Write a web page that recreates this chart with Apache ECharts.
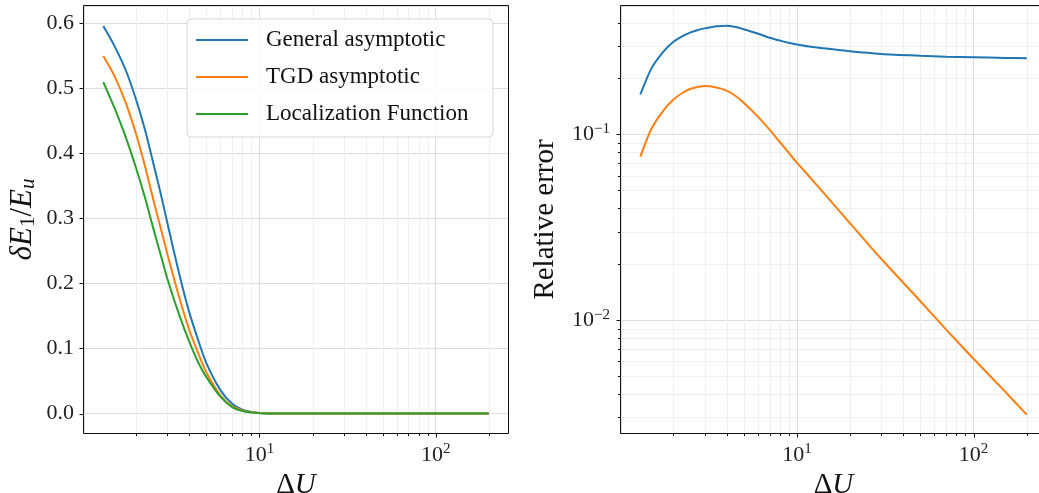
<!DOCTYPE html>
<html>
<head>
<meta charset="utf-8">
<title>Asymptotic vs localization function</title>
<script src="https://cdn.jsdelivr.net/npm/echarts@6.0.0/dist/echarts.min.js"></script>
<style>
  html, body { margin: 0; padding: 0; background: #fff; }
  #chart { width: 1039px; height: 493px; }
</style>
</head>
<body>
<div id="chart"></div>
<script>
// ΔU sample points shared by all curves
const deltaU = [1.3, 1.5, 1.75, 2, 2.25, 2.5, 2.75, 3, 3.5, 4, 4.5, 5, 6, 7, 8, 9, 10, 12, 15, 20, 30, 50, 70, 100, 150, 200]

// left panel: δE1/Eu
const generalAsym = [0.595, 0.565, 0.526, 0.481, 0.434, 0.384, 0.338, 0.293, 0.215, 0.155, 0.112, 0.077, 0.036, 0.015, 0.006, 0.0025, 0.001, 0.0002, 0.00002, 0, 0, 0, 0, 0, 0, 0]
const tgdAsym = [0.549, 0.519, 0.476, 0.428, 0.378, 0.328, 0.285, 0.245, 0.179, 0.128, 0.092, 0.063, 0.028, 0.011, 0.005, 0.002, 0.0008, 0.0001, 0.00001, 0, 0, 0, 0, 0, 0, 0]
const locFunc = [0.509, 0.470, 0.423, 0.376, 0.330, 0.284, 0.244, 0.207, 0.152, 0.110, 0.078, 0.056, 0.026, 0.010, 0.004, 0.0015, 0.0006, 0.0001, 0.00001, 0, 0, 0, 0, 0, 0, 0]

// right panel: relative error
const generalErr = [0.164, 0.226, 0.278, 0.315, 0.338, 0.354, 0.365, 0.372, 0.382, 0.384, 0.378, 0.368, 0.349, 0.331, 0.320, 0.311, 0.305, 0.296, 0.289, 0.280, 0.271, 0.265, 0.262, 0.260, 0.258, 0.257]
const tgdErr = [0.076, 0.107, 0.134, 0.154, 0.167, 0.176, 0.180, 0.182, 0.179, 0.172, 0.161, 0.148, 0.125, 0.106, 0.091, 0.0795, 0.0705, 0.058, 0.0455, 0.0332, 0.0214, 0.01265, 0.0089, 0.0062, 0.00415, 0.0031]

// tick positions
const xMajor = [10, 100]
const xMinor = [2, 3, 4, 5, 6, 7, 8, 9, 20, 30, 40, 50, 60, 70, 80, 90, 200]
const yLinMajor = [0, 0.1, 0.2, 0.3, 0.4, 0.5, 0.6]
const yLogMajor = [0.01, 0.1]
const yLogMinor = [0.003, 0.004, 0.005, 0.006, 0.007, 0.008, 0.009, 0.02, 0.03, 0.04, 0.05, 0.06, 0.07, 0.08, 0.09, 0.2, 0.3, 0.4]

const names = ['General asymptotic', 'TGD asymptotic', 'Localization Function']
const colors = ['#1f77b4', '#ff7f0e', '#2ca02c']
const FONT = 'Liberation Serif'

const X_MIN = 1.01, X_MAX = 257
const Y1_MIN = -0.0298, Y1_MAX = 0.6258
const Y2_MIN = 0.00247, Y2_MAX = 0.491

const pair = (xs, ys) => xs.map((x, i) => [x, ys[i]])

function isPow10(v) {
  const l = Math.log10(v)
  return Math.abs(l - Math.round(l)) < 1e-6
}
function powLabel(v) {
  if (!isPow10(v)) return ''
  const e = Math.round(Math.log10(v))
  return '{b|10}{sup|' + String(e).replace('-', '\u2212') + '}'
}
const powRich = {
  b: { fontFamily: FONT, fontSize: 22, color: '#222' },
  sup: { fontFamily: FONT, fontSize: 15, color: '#222', padding: [0, 0, 11, 0] }
}

// frame, tick marks and minor grid lines, placed through the axis scales
function tickSeries(gridIndex, xMid, yMid, yMaj, yMin) {
  const data = [[xMid, yMid, 4]]
  xMajor.forEach(v => data.push([v, yMid, 1]))
  xMinor.forEach(v => data.push([v, yMid, 0]))
  yMaj.forEach(v => data.push([xMid, v, 3]))
  yMin.forEach(v => data.push([xMid, v, 2]))
  return {
    type: 'custom',
    xAxisIndex: gridIndex,
    yAxisIndex: gridIndex,
    silent: true,
    z: 1,
    data,
    renderItem(params, api) {
      const cs = params.coordSys
      const kind = api.value(2)
      const p = api.coord([api.value(0), api.value(1)])
      const children = []
      const tickStyle = { stroke: '#111', lineWidth: 1 }
      const bottom = Math.round(cs.y + cs.height) + 0.5
      const left = Math.round(cs.x) - 0.5
      if (kind === 4) {
        children.push({
          type: 'rect',
          shape: { x: left, y: Math.round(cs.y) - 0.5, width: Math.round(cs.width) + 1, height: Math.round(cs.height) + 1 },
          style: { fill: null, stroke: '#111', lineWidth: 1 },
          z2: 10
        })
      } else if (kind <= 1) {
        const x = Math.round(p[0]) + 0.5
        if (kind === 0) {
          children.push({ type: 'line', shape: { x1: x, y1: cs.y, x2: x, y2: bottom }, style: { stroke: '#efefef', lineWidth: 1 } })
        }
        children.push({ type: 'line', shape: { x1: x, y1: bottom, x2: x, y2: bottom + (kind ? 4 : 2.5) }, style: tickStyle })
      } else {
        const y = Math.round(p[1]) + 0.5
        if (kind === 2) {
          children.push({ type: 'line', shape: { x1: cs.x, y1: y, x2: cs.x + cs.width, y2: y }, style: { stroke: '#efefef', lineWidth: 1 } })
        }
        children.push({ type: 'line', shape: { x1: left, y1: y, x2: left - (kind === 3 ? 4 : 2.5), y2: y }, style: tickStyle })
      }
      return { type: 'group', children }
    }
  }
}

function lineSeries(name, idx, xs, ys, color) {
  return {
    name,
    type: 'line',
    xAxisIndex: idx,
    yAxisIndex: idx,
    data: pair(xs, ys),
    showSymbol: false,
    smooth: 0.25,
    z: 3,
    lineStyle: { color, width: 2 },
    itemStyle: { color }
  }
}

const chart = echarts.init(document.getElementById('chart'), null, { renderer: 'canvas' })

const splitLine = { show: true, lineStyle: { color: '#dedede', width: 1 } }
const xAxisBase = {
  type: 'log',
  logBase: 10,
  min: X_MIN,
  max: X_MAX,
  axisLine: { show: false },
  axisTick: { show: false },
  splitLine,
  axisLabel: { formatter: powLabel, rich: powRich, margin: 9 },
  nameLocation: 'middle',
  nameGap: 33,
  name: '{n|\u0394}{i|U}',
  nameTextStyle: {
    rich: {
      n: { fontFamily: FONT, fontSize: 29, color: '#111' },
      i: { fontFamily: FONT, fontSize: 29, fontStyle: 'italic', color: '#111' }
    }
  }
}

const gridBase = { top: 6, height: 427, outerBoundsMode: 'none', containLabel: false, show: false }

chart.setOption({
  animation: false,
  backgroundColor: '#fff',
  grid: [
    Object.assign({ left: 84, width: 424 }, gridBase),
    Object.assign({ left: 621, width: 425 }, gridBase)
  ],
  legend: {
    data: names,
    left: 187,
    top: 19,
    orient: 'vertical',
    icon: 'rect',
    itemWidth: 52,
    itemHeight: 2,
    itemGap: 11,
    padding: [8, 12, 10, 9],
    backgroundColor: 'rgba(255,255,255,0.85)',
    borderColor: '#d6d6d6',
    borderWidth: 1,
    borderRadius: 4,
    textStyle: { fontFamily: FONT, fontSize: 23, color: '#111', lineHeight: 26, width: 215, padding: [0, 0, 0, 13] }
  },
  xAxis: [
    Object.assign({ gridIndex: 0 }, xAxisBase),
    Object.assign({ gridIndex: 1 }, xAxisBase)
  ],
  yAxis: [
    {
      gridIndex: 0,
      type: 'value',
      min: Y1_MIN,
      max: Y1_MAX,
      splitNumber: 6,
      axisLine: { show: false },
      axisTick: { show: false },
      splitLine,
      axisLabel: {
        fontFamily: FONT, fontSize: 22, color: '#222', margin: 10,
        formatter: v => Math.abs(v * 10 - Math.round(v * 10)) < 1e-6 ? v.toFixed(1) : ''
      },
      nameLocation: 'middle',
      nameRotate: 90,
      nameGap: 45,
      name: '{i|\u03b4E}{s|1}{n|/}{i|E}{si|u}',
      nameTextStyle: {
        rich: {
          i: { fontFamily: FONT, fontSize: 31, fontStyle: 'italic', color: '#111' },
          n: { fontFamily: FONT, fontSize: 31, color: '#111' },
          s: { fontFamily: FONT, fontSize: 21, color: '#111', padding: [11, 0, 0, 0] },
          si: { fontFamily: FONT, fontSize: 21, fontStyle: 'italic', color: '#111', padding: [11, 0, 0, 0] }
        }
      }
    },
    {
      gridIndex: 1,
      type: 'log',
      logBase: 10,
      min: Y2_MIN,
      max: Y2_MAX,
      axisLine: { show: false },
      axisTick: { show: false },
      splitLine,
      axisLabel: { formatter: powLabel, rich: powRich, margin: 11 },
      nameLocation: 'middle',
      nameRotate: 90,
      nameGap: 61,
      name: 'Relative error',
      nameTextStyle: { fontFamily: FONT, fontSize: 29, color: '#111' }
    }
  ],
  series: [
    tickSeries(0, 10, 0.3, yLinMajor, []),
    tickSeries(1, 10, 0.05, yLogMajor, yLogMinor),
    lineSeries(names[0], 0, deltaU, generalAsym, colors[0]),
    lineSeries(names[1], 0, deltaU, tgdAsym, colors[1]),
    lineSeries(names[2], 0, deltaU, locFunc, colors[2]),
    lineSeries(names[0], 1, deltaU, generalErr, colors[0]),
    lineSeries(names[1], 1, deltaU, tgdErr, colors[1])
  ]
})
</script>
</body>
</html>
